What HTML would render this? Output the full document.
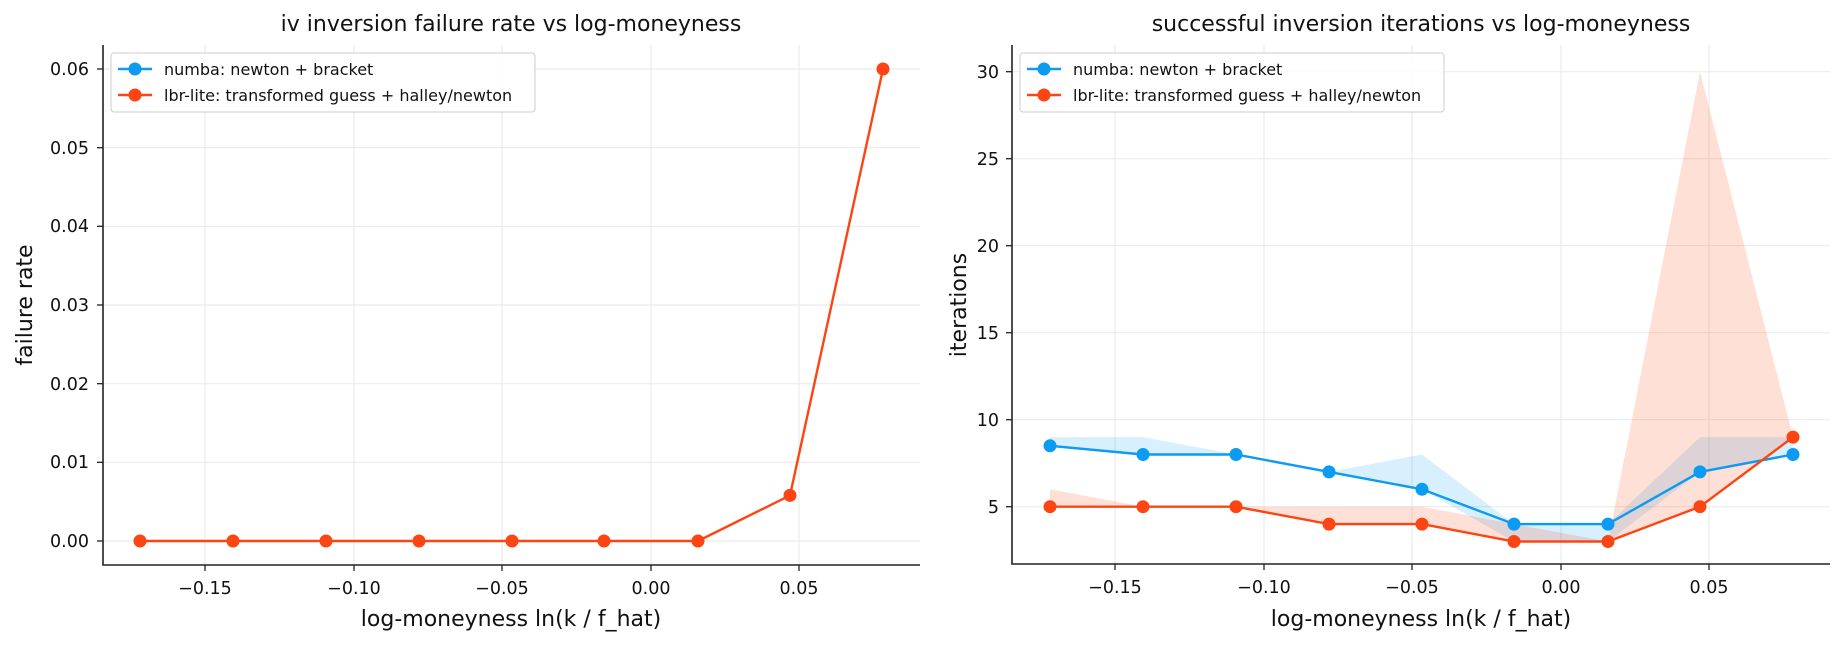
<!DOCTYPE html>
<html><head><meta charset="utf-8"><style>
html,body{margin:0;padding:0;background:#fff;}
svg{display:block;font-family:"DejaVu Sans","Liberation Sans",sans-serif;}
</style></head><body>
<svg width="1844" height="645" viewBox="0 0 1844 645" xmlns="http://www.w3.org/2000/svg">
<!-- LEFT -->
<g stroke="#ebebeb" stroke-width="1.2">
<line x1="205" y1="45" x2="205" y2="565"/><line x1="354" y1="45" x2="354" y2="565"/><line x1="502" y1="45" x2="502" y2="565"/><line x1="651" y1="45" x2="651" y2="565"/><line x1="799" y1="45" x2="799" y2="565"/>
<line x1="103" y1="541" x2="920" y2="541"/><line x1="103" y1="462.3" x2="920" y2="462.3"/><line x1="103" y1="383.7" x2="920" y2="383.7"/><line x1="103" y1="305" x2="920" y2="305"/><line x1="103" y1="226.3" x2="920" y2="226.3"/><line x1="103" y1="147.7" x2="920" y2="147.7"/><line x1="103" y1="69" x2="920" y2="69"/>
</g>
<g stroke="#222" stroke-width="1.6" fill="none"><path d="M103 45V565H920"/></g>
<g stroke="#222" stroke-width="1.3">
<line x1="205" y1="565" x2="205" y2="571"/><line x1="354" y1="565" x2="354" y2="571"/><line x1="502" y1="565" x2="502" y2="571"/><line x1="651" y1="565" x2="651" y2="571"/><line x1="799" y1="565" x2="799" y2="571"/>
<line x1="97" y1="541" x2="103" y2="541"/><line x1="97" y1="462.3" x2="103" y2="462.3"/><line x1="97" y1="383.7" x2="103" y2="383.7"/><line x1="97" y1="305" x2="103" y2="305"/><line x1="97" y1="226.3" x2="103" y2="226.3"/><line x1="97" y1="147.7" x2="103" y2="147.7"/><line x1="97" y1="69" x2="103" y2="69"/>
</g>
<g font-size="17.5" fill="#111" text-anchor="middle">
<text x="205" y="594">−0.15</text><text x="354" y="594">−0.10</text><text x="502" y="594">−0.05</text><text x="651" y="594">0.00</text><text x="799" y="594">0.05</text>
</g>
<g font-size="17.5" fill="#111" text-anchor="end">
<text x="89" y="547">0.00</text><text x="89" y="468">0.01</text><text x="89" y="390">0.02</text><text x="89" y="311">0.03</text><text x="89" y="232">0.04</text><text x="89" y="154">0.05</text><text x="89" y="75">0.06</text>
</g>
<text x="511" y="626" font-size="22" text-anchor="middle" fill="#111">log-moneyness ln(k / f_hat)</text>
<text transform="translate(32,305) rotate(-90)" font-size="22" text-anchor="middle" fill="#111">failure rate</text>
<text x="511" y="31" font-size="22" text-anchor="middle" fill="#111">iv inversion failure rate vs log-moneyness</text>
<polyline fill="none" stroke="#fc4513" stroke-width="2.4" points="140,541 233,541 326,541 419,541 512,541 604,541 698,541 790,495.4 883,69"/>
<g fill="#fc4513"><circle cx="140" cy="541" r="6.5"/><circle cx="233" cy="541" r="6.5"/><circle cx="326" cy="541" r="6.5"/><circle cx="419" cy="541" r="6.5"/><circle cx="512" cy="541" r="6.5"/><circle cx="604" cy="541" r="6.5"/><circle cx="698" cy="541" r="6.5"/><circle cx="790" cy="495.4" r="6.5"/><circle cx="883" cy="69" r="6.5"/></g>
<rect x="111" y="53" width="424" height="59" rx="3" fill="#fff" fill-opacity="0.85" stroke="#ccc"/>
<line x1="118" y1="69" x2="152" y2="69" stroke="#0b9bf0" stroke-width="2.4"/><circle cx="135" cy="69" r="6.5" fill="#0b9bf0"/>
<line x1="118" y1="95" x2="152" y2="95" stroke="#fc4513" stroke-width="2.4"/><circle cx="135" cy="95" r="6.5" fill="#fc4513"/>
<text x="164" y="75" font-size="16" fill="#111">numba: newton + bracket</text>
<text x="164" y="101" font-size="16" fill="#111">lbr-lite: transformed guess + halley/newton</text>

<!-- RIGHT -->
<g stroke="#ebebeb" stroke-width="1.2">
<line x1="1115" y1="45" x2="1115" y2="564"/><line x1="1264" y1="45" x2="1264" y2="564"/><line x1="1412" y1="45" x2="1412" y2="564"/><line x1="1561" y1="45" x2="1561" y2="564"/><line x1="1709" y1="45" x2="1709" y2="564"/>
<line x1="1012" y1="506.7" x2="1830" y2="506.7"/><line x1="1012" y1="419.7" x2="1830" y2="419.7"/><line x1="1012" y1="332.7" x2="1830" y2="332.7"/><line x1="1012" y1="245.7" x2="1830" y2="245.7"/><line x1="1012" y1="158.7" x2="1830" y2="158.7"/><line x1="1012" y1="71.7" x2="1830" y2="71.7"/>
</g>
<polygon fill="#0b9bf0" fill-opacity="0.16" points="1050,437.1 1143,437.1 1236,454.5 1329,471.9 1422,454.5 1514,524.1 1608,524.1 1700,437.1 1793,437.1 1793,454.5 1700,471.9 1608,541.5 1514,541.5 1422,489.3 1329,471.9 1236,454.5 1143,454.5 1050,445.8"/>
<polygon fill="#fc4513" fill-opacity="0.17" points="1050,489.3 1143,506.7 1236,506.7 1329,506.7 1422,506.7 1514,524.1 1608,541.5 1700,71.7 1793,437.1 1793,437.1 1700,506.7 1608,541.5 1514,541.5 1422,524.1 1329,524.1 1236,506.7 1143,506.7 1050,506.7"/>
<g stroke="#222" stroke-width="1.6" fill="none"><path d="M1012 45V564H1830"/></g>
<g stroke="#222" stroke-width="1.3">
<line x1="1115" y1="564" x2="1115" y2="570"/><line x1="1264" y1="564" x2="1264" y2="570"/><line x1="1412" y1="564" x2="1412" y2="570"/><line x1="1561" y1="564" x2="1561" y2="570"/><line x1="1709" y1="564" x2="1709" y2="570"/>
<line x1="1006" y1="506.7" x2="1012" y2="506.7"/><line x1="1006" y1="419.7" x2="1012" y2="419.7"/><line x1="1006" y1="332.7" x2="1012" y2="332.7"/><line x1="1006" y1="245.7" x2="1012" y2="245.7"/><line x1="1006" y1="158.7" x2="1012" y2="158.7"/><line x1="1006" y1="71.7" x2="1012" y2="71.7"/>
</g>
<g font-size="17.5" fill="#111" text-anchor="middle">
<text x="1115" y="593">−0.15</text><text x="1264" y="593">−0.10</text><text x="1412" y="593">−0.05</text><text x="1561" y="593">0.00</text><text x="1709" y="593">0.05</text>
</g>
<g font-size="17.5" fill="#111" text-anchor="end">
<text x="999" y="513">5</text><text x="999" y="426">10</text><text x="999" y="339">15</text><text x="999" y="252">20</text><text x="999" y="165">25</text><text x="999" y="78">30</text>
</g>
<text x="1421" y="626" font-size="22" text-anchor="middle" fill="#111">log-moneyness ln(k / f_hat)</text>
<text transform="translate(966,305) rotate(-90)" font-size="22" text-anchor="middle" fill="#111">iterations</text>
<text x="1421" y="31" font-size="22" text-anchor="middle" fill="#111">successful inversion iterations vs log-moneyness</text>
<polyline fill="none" stroke="#0b9bf0" stroke-width="2.4" points="1050,445.8 1143,454.5 1236,454.5 1329,471.9 1422,489.3 1514,524.1 1608,524.1 1700,471.9 1793,454.5"/>
<g fill="#0b9bf0"><circle cx="1050" cy="445.8" r="6.5"/><circle cx="1143" cy="454.5" r="6.5"/><circle cx="1236" cy="454.5" r="6.5"/><circle cx="1329" cy="471.9" r="6.5"/><circle cx="1422" cy="489.3" r="6.5"/><circle cx="1514" cy="524.1" r="6.5"/><circle cx="1608" cy="524.1" r="6.5"/><circle cx="1700" cy="471.9" r="6.5"/><circle cx="1793" cy="454.5" r="6.5"/></g>
<polyline fill="none" stroke="#fc4513" stroke-width="2.4" points="1050,506.7 1143,506.7 1236,506.7 1329,524.1 1422,524.1 1514,541.5 1608,541.5 1700,506.7 1793,437.1"/>
<g fill="#fc4513"><circle cx="1050" cy="506.7" r="6.5"/><circle cx="1143" cy="506.7" r="6.5"/><circle cx="1236" cy="506.7" r="6.5"/><circle cx="1329" cy="524.1" r="6.5"/><circle cx="1422" cy="524.1" r="6.5"/><circle cx="1514" cy="541.5" r="6.5"/><circle cx="1608" cy="541.5" r="6.5"/><circle cx="1700" cy="506.7" r="6.5"/><circle cx="1793" cy="437.1" r="6.5"/></g>
<rect x="1020" y="53" width="424" height="59" rx="3" fill="#fff" fill-opacity="0.85" stroke="#ccc"/>
<line x1="1027" y1="69" x2="1061" y2="69" stroke="#0b9bf0" stroke-width="2.4"/><circle cx="1044" cy="69" r="6.5" fill="#0b9bf0"/>
<line x1="1027" y1="95" x2="1061" y2="95" stroke="#fc4513" stroke-width="2.4"/><circle cx="1044" cy="95" r="6.5" fill="#fc4513"/>
<text x="1073" y="75" font-size="16" fill="#111">numba: newton + bracket</text>
<text x="1073" y="101" font-size="16" fill="#111">lbr-lite: transformed guess + halley/newton</text>
</svg>
</body></html>
